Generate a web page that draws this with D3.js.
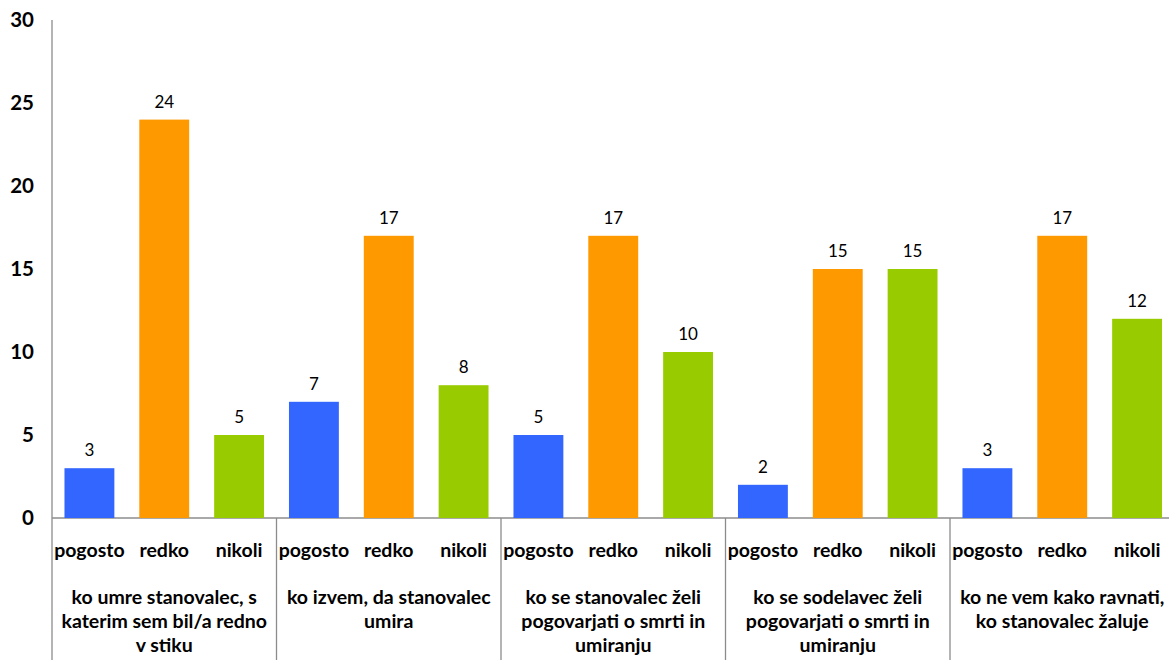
<!DOCTYPE html>
<html>
<head>
<meta charset="utf-8">
<script src="https://cdn.jsdelivr.net/npm/d3@7"></script>
<style>
  html, body { margin: 0; padding: 0; background: #fff; }
  svg { display: block; font-family: Lato, "Open Sans", sans-serif; }
</style>
</head>
<body>
<svg id="chart" width="1169" height="660"></svg>
<script>
// Situations (groups), each split by how often it happens
const groups = [
  ["ko umre stanovalec, s", "katerim sem bil/a redno", "v stiku"],
  ["ko izvem, da stanovalec", "umira"],
  ["ko se stanovalec želi", "pogovarjati o smrti in", "umiranju"],
  ["ko se sodelavec želi", "pogovarjati o smrti in", "umiranju"],
  ["ko ne vem kako ravnati,", "ko stanovalec žaluje"]
];
const seriesNames = ["pogosto", "redko", "nikoli"];
const pogosto = [3, 7, 5, 2, 3];
const redko = [24, 17, 17, 15, 17];
const nikoli = [5, 8, 10, 15, 12];
const seriesValues = [pogosto, redko, nikoli];
const seriesColors = ["#3366FF", "#FF9900", "#99CC00"];
const yTicks = [0, 5, 10, 15, 20, 25, 30];

const svg = d3.select("#chart");
const plotLeft = 52, plotRight = 1174.5, plotTop = 20, plotBottom = 518, H = 660;

const y = d3.scaleLinear().domain([0, 30]).range([plotBottom, plotTop]);
const x0 = d3.scaleBand().domain(d3.range(groups.length)).range([plotLeft, plotRight]).padding(0);
const x1 = d3.scaleBand().domain(d3.range(seriesNames.length))
  .range([0, x0.bandwidth()]).paddingInner(1/3).paddingOuter(1/6);

const lineColor = "#8c8c8c";

// Y axis: labels only, with a plain vertical line
const yAxis = d3.axisLeft(y).tickValues(yTicks).tickSize(0).tickPadding(18);
const yg = svg.append("g").attr("transform", `translate(${plotLeft},0)`).call(yAxis);
yg.select(".domain").remove();
yg.selectAll("text")
  .attr("font-family", "Lato, sans-serif")
  .attr("font-size", 20.5).attr("font-weight", "bold").attr("fill", "#000");

svg.append("line")
  .attr("x1", plotLeft).attr("x2", plotLeft).attr("y1", plotTop).attr("y2", H)
  .attr("stroke", lineColor).attr("stroke-width", 1.3);

// Baseline
svg.append("line")
  .attr("x1", plotLeft).attr("x2", plotRight).attr("y1", plotBottom).attr("y2", plotBottom)
  .attr("stroke", lineColor).attr("stroke-width", 1.3);

// Group separators below the baseline
svg.selectAll("line.sep")
  .data(d3.range(1, groups.length))
  .join("line").attr("class", "sep")
  .attr("x1", d => x0(d)).attr("x2", d => x0(d))
  .attr("y1", plotBottom).attr("y2", H)
  .attr("stroke", lineColor).attr("stroke-width", 1.3);

// Bars and value labels
const rows = [];
groups.forEach((g, gi) => {
  seriesNames.forEach((s, si) => rows.push({ gi, si, v: seriesValues[si][gi] }));
});

const gBars = svg.append("g");
gBars.selectAll("rect")
  .data(rows)
  .join("rect")
  .attr("x", d => x0(d.gi) + x1(d.si))
  .attr("width", x1.bandwidth())
  .attr("y", d => y(d.v))
  .attr("height", d => y(0) - y(d.v))
  .attr("fill", d => seriesColors[d.si]);

gBars.selectAll("text.val")
  .data(rows)
  .join("text").attr("class", "val")
  .attr("x", d => x0(d.gi) + x1(d.si) + x1.bandwidth() / 2)
  .attr("y", d => y(d.v) - 12)
  .attr("text-anchor", "middle")
  .attr("font-size", 17)
  .attr("fill", "#000")
  .text(d => d.v);

// Series labels under each bar
gBars.selectAll("text.cat")
  .data(rows)
  .join("text").attr("class", "cat")
  .attr("x", d => x0(d.gi) + x1(d.si) + x1.bandwidth() / 2)
  .attr("y", 557)
  .attr("text-anchor", "middle")
  .attr("font-size", 19.5).attr("font-weight", "bold")
  .attr("fill", "#000")
  .text(d => seriesNames[d.si]);

// Group labels (wrapped lines)
const gl = svg.append("g").selectAll("text.grp")
  .data(groups)
  .join("text").attr("class", "grp")
  .attr("text-anchor", "middle")
  .attr("font-size", 19.5).attr("font-weight", "bold")
  .attr("fill", "#000");
gl.each(function(lines, gi) {
  d3.select(this).selectAll("tspan")
    .data(lines)
    .join("tspan")
    .attr("x", x0(gi) + x0.bandwidth() / 2)
    .attr("y", (d, i) => 604 + i * 24)
    .text(d => d);
});
</script>
</body>
</html>
